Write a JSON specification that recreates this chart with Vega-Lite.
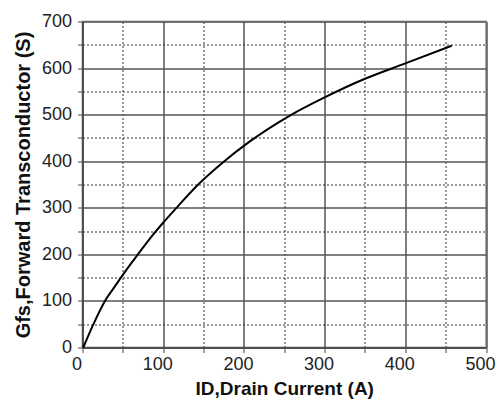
{
  "$schema": "https://vega.github.io/schema/vega-lite/v6.json",
  "width": 403.5,
  "height": 326,
  "autosize": {"type": "none"},
  "padding": {"left": 82.5, "top": 21.5, "right": 13, "bottom": 55.5},
  "background": "white",
  "config": {
    "view": {"stroke": "#aaaaaa", "strokeWidth": 2},
    "font": "Liberation Sans"
  },
  "data": {
    "values": [
      {"id": 1, "gfs": 0},
      {"id": 13, "gfs": 48},
      {"id": 27.5, "gfs": 99},
      {"id": 38, "gfs": 126},
      {"id": 48, "gfs": 151},
      {"id": 60, "gfs": 180},
      {"id": 70, "gfs": 203},
      {"id": 84, "gfs": 235},
      {"id": 100, "gfs": 268},
      {"id": 117, "gfs": 301},
      {"id": 144, "gfs": 351},
      {"id": 175, "gfs": 399},
      {"id": 207, "gfs": 442},
      {"id": 257, "gfs": 498},
      {"id": 300, "gfs": 537},
      {"id": 350, "gfs": 577},
      {"id": 400, "gfs": 610},
      {"id": 457.5, "gfs": 648}
    ]
  },
  "mark": {"type": "line", "color": "#000000", "strokeWidth": 2, "interpolate": "monotone"},
  "encoding": {
    "x": {
      "field": "id",
      "type": "quantitative",
      "scale": {"domain": [0, 500], "nice": false},
      "axis": {
        "title": "ID,Drain Current (A)",
        "titleFont": "Liberation Sans",
        "titleFontSize": 19,
        "titleFontWeight": "bold",
        "titleColor": "#111111",
        "titlePadding": 6,
        "values": [0, 50, 100, 150, 200, 250, 300, 350, 400, 450, 500],
        "labelExpr": "datum.value % 100 === 0 ? datum.label : ''",
        "labelFont": "Liberation Sans",
        "labelFontSize": 18,
        "labelColor": "#222222",
        "labelPadding": 3,
        "labelOffset": -6,
        "labelFlush": false,
        "labelOverlap": false,
        "tickSize": 5,
        "tickColor": "#444444",
        "domainColor": "#444444",
        "domainWidth": 1.5,
        "grid": true,
        "gridColor": {"condition": {"test": "datum.value % 100 !== 0", "value": "#333333"}, "value": "#555555"},
        "gridDash": {"condition": {"test": "datum.value % 100 !== 0", "value": [2, 2]}, "value": []},
        "gridWidth": {"condition": {"test": "datum.value % 100 !== 0", "value": 1}, "value": 1.5},
        "gridOpacity": 1
      }
    },
    "y": {
      "field": "gfs",
      "type": "quantitative",
      "scale": {"domain": [0, 700], "nice": false},
      "axis": {
        "title": "Gfs,Forward Transconductor (S)",
        "titleFont": "Liberation Sans",
        "titleFontSize": 20,
        "titleFontWeight": "bold",
        "titleColor": "#111111",
        "titlePadding": 8,
        "values": [0, 50, 100, 150, 200, 250, 300, 350, 400, 450, 500, 550, 600, 650, 700],
        "labelExpr": "datum.value % 100 === 0 ? datum.label : ''",
        "labelFont": "Liberation Sans",
        "labelFontSize": 18,
        "labelColor": "#222222",
        "labelPadding": 6,
        "labelFlush": false,
        "labelOverlap": false,
        "tickSize": 5,
        "tickColor": "#444444",
        "domainColor": "#444444",
        "domainWidth": 1.5,
        "grid": true,
        "gridColor": {"condition": {"test": "datum.value % 100 !== 0", "value": "#333333"}, "value": "#555555"},
        "gridDash": {"condition": {"test": "datum.value % 100 !== 0", "value": [2, 2]}, "value": []},
        "gridWidth": {"condition": {"test": "datum.value % 100 !== 0", "value": 1}, "value": 1.5},
        "gridOpacity": 1
      }
    }
  }
}
